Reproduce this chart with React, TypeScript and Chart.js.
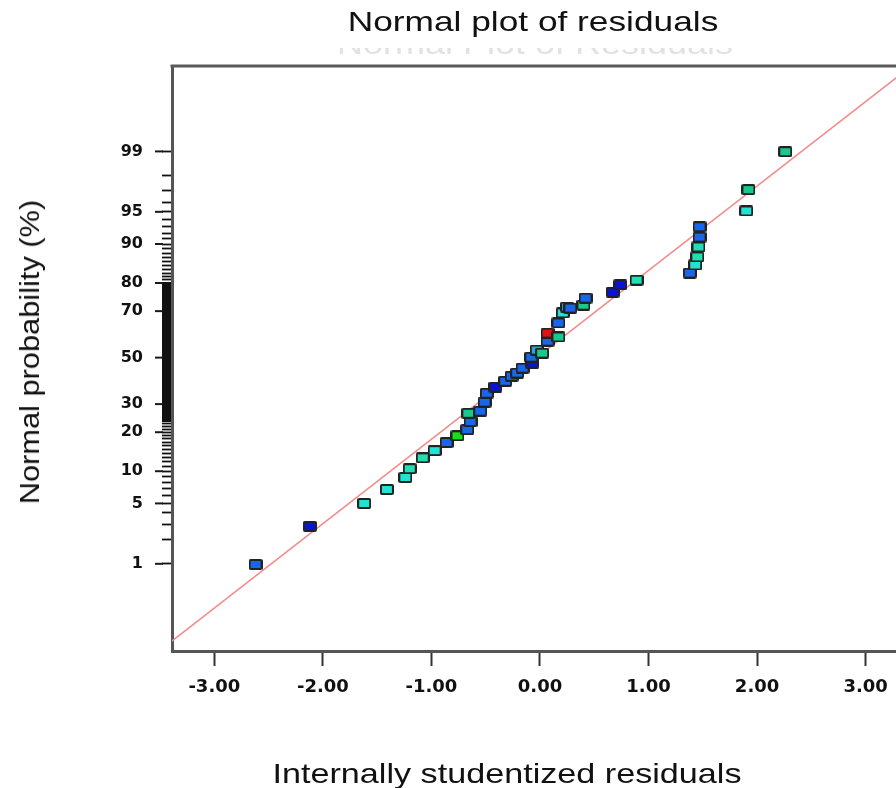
import React, { useEffect, useRef } from "react";
import { Chart, registerables } from "chart.js";

Chart.register(...registerables);

// ---- data ----
const residuals: number[] = [
  -2.62, -2.12, -1.62, -1.41, -1.24, -1.2, -1.08, -0.97, -0.86, -0.76,
  -0.67, -0.64, -0.66, -0.55, -0.51, -0.49, -0.41, -0.32, -0.26, -0.21,
  -0.16, -0.07, -0.08, -0.03, 0.02, 0.07, 0.07, 0.17, 0.17, 0.21,
  0.25, 0.28, 0.4, 0.42, 0.67, 0.74, 0.89, 1.38, 1.43, 1.45,
  1.46, 1.47, 1.47, 1.9, 1.92, 2.26,
];
const probabilities: number[] = [
  0.98, 2.85, 4.99, 6.84, 8.82, 10.5, 12.9, 14.7, 16.9, 18.9,
  20.8, 23.5, 26.5, 27.3, 30.8, 34.4, 37.0, 39.5, 41.7, 43.1,
  45.3, 47.5, 50.2, 53.4, 52.0, 57.4, 60.9, 59.2, 65.2, 69.3,
  71.6, 71.2, 72.3, 74.9, 77.0, 79.4, 80.9, 83.0, 85.2, 87.2,
  89.4, 91.3, 93.0, 95.1, 97.1, 98.99,
];
const refLineResiduals: number[] = [-3.5, 3.4];
const refLineProbabilities: number[] = [0.048, 99.946];

const xTickValues: number[] = [-3, -2, -1, 0, 1, 2, 3];
const yMajorTicks: number[] = [1, 5, 10, 20, 30, 50, 70, 80, 90, 95, 99];
const yMinorTicks: number[] = Array.from({ length: 99 }, (_, i) => i + 1);

// point colours (style, one per point)
const B = "#1a66ea";
const DB = "#0a14d6";
const CY = "#22e2d6";
const CG = "#20e0b2";
const TG = "#18c98e";
const GR = "#16e016";
const RD = "#e01212";
const CB = "#20a8e6";
const pointColors: string[] = [
  B, DB, CY, CY, CY, CG, CG, CY, B, GR,
  B, B, TG, B, B, B, DB, B, B, B,
  B, DB, B, CB, TG, B, RD, TG, B, CY,
  CB, B, TG, B, DB, DB, CG, B, CY, CG,
  CG, B, B, CY, TG, TG,
];

// inverse standard normal CDF (Acklam)
function probit(p: number): number {
  const a = [-39.69683028665376, 220.9460984245205, -275.9285104469687, 138.357751867269, -30.66479806614716, 2.506628277459239];
  const b = [-54.47609879822406, 161.5858368580409, -155.6989798598866, 66.80131188771972, -13.28068155288572];
  const c = [-0.007784894002430293, -0.3223964580411365, -2.400758277161838, -2.549732539343734, 4.374664141464968, 2.938163982698783];
  const d = [0.007784695709041462, 0.3224671290700398, 2.445134137142996, 3.754408661907416];
  const plow = 0.02425;
  const phigh = 1 - plow;
  if (p < plow) {
    const q = Math.sqrt(-2 * Math.log(p));
    return (((((c[0] * q + c[1]) * q + c[2]) * q + c[3]) * q + c[4]) * q + c[5]) /
      ((((d[0] * q + d[1]) * q + d[2]) * q + d[3]) * q + 1);
  }
  if (p > phigh) {
    const q = Math.sqrt(-2 * Math.log(1 - p));
    return -(((((c[0] * q + c[1]) * q + c[2]) * q + c[3]) * q + c[4]) * q + c[5]) /
      ((((d[0] * q + d[1]) * q + d[2]) * q + d[3]) * q + 1);
  }
  const q = p - 0.5;
  const r = q * q;
  return ((((((a[0] * r + a[1]) * r + a[2]) * r + a[3]) * r + a[4]) * r + a[5]) * q) /
    (((((b[0] * r + b[1]) * r + b[2]) * r + b[3]) * r + b[4]) * r + 1);
}

function makeMarker(color: string): HTMLCanvasElement {
  const c = document.createElement("canvas");
  c.width = 14;
  c.height = 11;
  const g = c.getContext("2d")!;
  g.fillStyle = "#222";
  g.beginPath();
  if ((g as any).roundRect) (g as any).roundRect(0, 0, 14, 11, 2);
  else g.rect(0, 0, 14, 11);
  g.fill();
  g.fillStyle = color;
  g.fillRect(2, 2, 10, 7);
  return c;
}

const framePlugin = {
  id: "frame",
  afterDraw(chart: any) {
    const { ctx, chartArea } = chart;
    const ys = chart.scales.y;
    ctx.save();
    ctx.strokeStyle = "#5a5a5a";
    ctx.lineWidth = 3;
    ctx.beginPath();
    ctx.moveTo(chartArea.left - 1.5, chartArea.top);
    ctx.lineTo(chartArea.right, chartArea.top);
    ctx.stroke();
    // longer major ticks on the probability axis
    ctx.strokeStyle = "#1a1a1a";
    ctx.lineWidth = 2;
    for (const p of yMajorTicks) {
      const y = ys.getPixelForValue(probit(p / 100));
      ctx.beginPath();
      ctx.moveTo(chartArea.left - 17, y);
      ctx.lineTo(chartArea.left - 9, y);
      ctx.stroke();
    }
    ctx.restore();
  },
};

export default function App() {
  const ref = useRef<HTMLCanvasElement | null>(null);

  useEffect(() => {
    if (!ref.current) return;
    const markers = pointColors.map(makeMarker);
    const points = residuals.map((r, i) => ({ x: r, y: probit(probabilities[i] / 100) }));
    const line = refLineResiduals.map((r, i) => ({ x: r, y: probit(refLineProbabilities[i] / 100) }));
    const tickFont = { family: "'DejaVu Sans', sans-serif", weight: "bold" as const };

    const chart = new Chart(ref.current, {
      type: "scatter",
      data: {
        datasets: [
          {
            label: "Residuals",
            data: points,
            pointStyle: markers as any,
            pointRadius: 6,
            backgroundColor: pointColors,
          },
          {
            type: "line",
            label: "Reference",
            data: line,
            borderColor: "#f28c8c",
            borderWidth: 1.5,
            pointRadius: 0,
            showLine: true,
            fill: false,
          } as any,
        ],
      },
      options: {
        responsive: false,
        animation: false,
        events: [],
        layout: { autoPadding: false, padding: { top: 66, right: 0, bottom: 0, left: 0 } },
        plugins: {
          legend: { display: false },
          title: { display: false },
          tooltip: { enabled: false },
        },
        scales: {
          x: {
            type: "linear",
            min: -3.39,
            max: 3.28,
            afterBuildTicks: (s: any) => {
              s.ticks = xTickValues.map((v) => ({ value: v }));
            },
            afterFit: (s: any) => {
              s.height = 137;
              s.paddingLeft = 0;
              s.paddingRight = 0;
            },
            ticks: {
              autoSkip: false,
              maxRotation: 0,
              padding: 11,
              color: "#111",
              font: { ...tickFont, size: 18 },
              callback: (v: any) => Number(v).toFixed(2),
            },
            grid: {
              drawOnChartArea: false,
              drawTicks: true,
              tickLength: 15,
              tickWidth: 2,
              tickColor: "#333",
            },
            border: { display: true, color: "#555", width: 3 },
          },
          y: {
            type: "linear",
            min: -3.31,
            max: 3.29,
            afterBuildTicks: (s: any) => {
              s.ticks = yMinorTicks.map((p) => ({ value: probit(p / 100) }));
            },
            afterFit: (s: any) => {
              s.width = 172;
              s.paddingTop = 0;
              s.paddingBottom = 0;
            },
            ticks: {
              autoSkip: false,
              padding: 19,
              color: "#111",
              font: { ...tickFont, size: 16 },
              callback: (v: any) => {
                const m = yMajorTicks.find((p) => Math.abs(probit(p / 100) - Number(v)) < 1e-6);
                return m === undefined ? "" : String(m);
              },
            },
            grid: {
              drawOnChartArea: false,
              drawTicks: true,
              tickLength: 10,
              tickWidth: (c: any) => {
                const p = yMinorTicks[c.index];
                return p >= 24 && p <= 80 ? 3 : 1.8;
              },
              tickColor: "#111",
            },
            border: { display: true, color: "#555", width: 3 },
          },
        },
      },
      plugins: [framePlugin],
    });
    return () => chart.destroy();
  }, []);

  const textFont = "'Liberation Sans', Arial, sans-serif";
  return (
    <div style={{ position: "fixed", left: 0, top: 0, width: 896, height: 788, background: "#fff", overflow: "hidden" }}>
      <canvas ref={ref} width={896} height={788} style={{ display: "block", position: "absolute", left: 0, top: 0 }} />
      <div style={{ position: "absolute", left: 320, top: 48, width: 430, height: 10, overflow: "hidden" }}>
        <div style={{ position: "absolute", left: 215, top: -19, transform: "translateX(-50%) scaleX(1.2)", whiteSpace: "nowrap", fontFamily: textFont, fontSize: 30, lineHeight: "30px", color: "#e2e2e2" }}>
          Normal Plot of Residuals
        </div>
      </div>
      <div style={{ position: "absolute", left: 533, top: 22, transform: "translate(-50%, -50%) scaleX(1.26)", whiteSpace: "nowrap", fontFamily: textFont, fontSize: 28, lineHeight: "32px", color: "#111" }}>
        Normal plot of residuals
      </div>
      <div style={{ position: "absolute", left: 507, top: 774, transform: "translate(-50%, -50%) scaleX(1.22)", whiteSpace: "nowrap", fontFamily: textFont, fontSize: 28, lineHeight: "32px", color: "#111" }}>
        Internally studentized residuals
      </div>
      <div style={{ position: "absolute", left: 30, top: 352, transform: "translate(-50%, -50%) rotate(-90deg) scaleX(1.14)", whiteSpace: "nowrap", fontFamily: textFont, fontSize: 27, lineHeight: "32px", color: "#111" }}>
        Normal probability (%)
      </div>
    </div>
  );
}
